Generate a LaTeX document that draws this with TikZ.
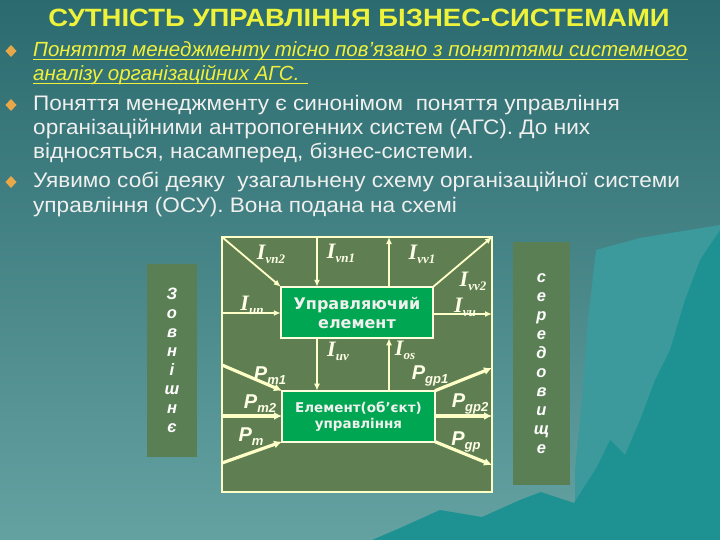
\documentclass[tikz,border=0pt]{standalone}
\usepackage{fontspec}
\setmainfont{Liberation Sans}
\newfontfamily\serifI{Liberation Serif}
\newfontfamily\boxfont{DejaVu Sans}
\usetikzlibrary{arrows.meta}
\definecolor{bgtop}{HTML}{2B6A6E}
\definecolor{bgbot}{HTML}{64A2A2}
\definecolor{mount}{HTML}{1E9292}
\definecolor{mount2}{HTML}{3C9A9C}
\definecolor{ttl}{HTML}{EEF23A}
\definecolor{txt}{HTML}{F0F0EE}
\definecolor{ylw}{HTML}{F0F03C}
\definecolor{bul}{HTML}{E8A84A}
\definecolor{olive}{HTML}{5F7F52}
\definecolor{grn}{HTML}{00A651}
\definecolor{pale}{HTML}{FFFFC8}
\definecolor{lab}{HTML}{FFFFE8}
\newcommand\Ilab[1]{{\serifI\bfseries\itshape\fontsize{22}{22}\selectfont I}\raisebox{-4pt}{\serifI\bfseries\itshape\fontsize{13}{13}\selectfont #1}}
\newcommand\Plab[1]{{\bfseries\itshape\fontsize{20}{20}\selectfont P}\raisebox{-4pt}{\bfseries\itshape\fontsize{13}{13}\selectfont #1}}
\newcommand\wide[1]{\scalebox{1.075}[1]{#1}}
\begin{document}
\begin{tikzpicture}[x=1pt,y=-1pt,
  btext/.style={anchor=base west,inner sep=0pt,text=txt,font=\fontsize{21}{21}\selectfont},
  ytext/.style={btext,text=ylw,font=\fontsize{20.5}{20.5}\selectfont\itshape},
  bulletd/.style={fill=bul},
  framebox/.style={draw=pale,line width=2.5pt,fill=olive,outer sep=0pt,inner sep=0pt},
  gbox/.style={draw=pale!60!white,line width=2pt,fill=grn,outer sep=0pt,inner sep=0pt,text=txt,align=center},
  side/.style={fill=olive!95!teal,inner sep=0pt,outer sep=0pt,text=white,align=center,font=\fontsize{16.5}{19}\selectfont\bfseries\itshape},
  iarrow/.style={draw=pale,line width=1.8pt,-{Latex[length=7pt,width=6pt]}},
  parrow/.style={draw=pale,line width=3.2pt,-{Latex[length=8pt,width=8pt]}},
  lbl/.style={text=lab,inner sep=0pt}]
% background
\fill[top color=bgtop,bottom color=bgbot] (0,0) rectangle (720,540);
\fill[mount2] (575,470) -- (582,400) -- (588,320) -- (596,250) -- (640,238) -- (720,225) -- (720,540) -- (575,540) -- cycle;
\fill[mount] (372,540) -- (400,528) -- (440,510) -- (482,517) -- (520,500) -- (541,492) -- (574,503) -- (597,467) -- (610,440) -- (625,455) -- (640,420) -- (655,380) -- (670,350) -- (685,300) -- (700,260) -- (720,230) -- (720,540) -- cycle;
\useasboundingbox (0,0) rectangle (720,540);
% title
\node[text=ttl,inner sep=0pt,anchor=base] (title) at (359,27)
  {\scalebox{1.1}[1]{\fontsize{25}{25}\selectfont\bfseries СУТНІСТЬ УПРАВЛІННЯ БІЗНЕС-СИСТЕМАМИ}};
% bullets
\fill[bulletd] (11,45) -- (16.5,51) -- (11,57) -- (5.5,51) -- cycle;
\fill[bulletd] (11,99) -- (16.5,105) -- (11,111) -- (5.5,105) -- cycle;
\fill[bulletd] (11,176) -- (16.5,182) -- (11,188) -- (5.5,182) -- cycle;
\node[ytext] (l1t) at (33,57) {Поняття менеджменту тісно пов’язано з поняттями системного};
\node[ytext] (l2t) at (33,81) {аналізу організаційних АГС.};
\draw[ylw,line width=1pt] ([yshift=-3pt]l1t.base west) -- ([yshift=-3pt]l1t.base east);
\draw[ylw,line width=1pt] ([yshift=-3pt]l2t.base west) -- ([yshift=-3pt,xshift=8pt]l2t.base east);
\node[btext] (l3t) at (33,111) {\wide{Поняття менеджменту є синонімом \ поняття управління}};
\node[btext] (l4t) at (33,135) {\wide{організаційними антропогенних систем (АГС). До них}};
\node[btext] (l5t) at (33,159) {\wide{відносяться, насамперед, бізнес-системи.}};
\node[btext] (l6t) at (33,188) {\wide{Уявимо собі деяку \ узагальнену схему організаційної системи}};
\node[btext] (l7t) at (33,212) {\wide{управління (ОСУ). Вона подана на схемі}};
% side boxes
\node[side,minimum width=50pt,minimum height=193pt] (L) at (172,360.5) {З\\о\\в\\н\\і\\ш\\н\\є};
\node[side,minimum width=57pt,minimum height=243pt] (R) at (541.5,363.5) {с\\е\\р\\е\\д\\о\\в\\и\\щ\\е};
% frame and boxes
\node[framebox,minimum width=270pt,minimum height=255pt] (F) at (357,364.5) {};
\node[gbox,minimum width=152.5pt,minimum height=51.5pt,font=\boxfont\bfseries\fontsize{16}{19}\selectfont] (U) at (357,312.5) {Управляючий\\елемент};
\node[gbox,minimum width=153pt,minimum height=51pt,font=\boxfont\bfseries\fontsize{13.5}{16}\selectfont] (O) at (358.5,416.2) {Елемент(об’єкт)\\управління};
% anchor coordinates on the frame
\coordinate (a1) at (317,237);
\coordinate (a2) at (389,237);
\coordinate (l1) at (222,313);
\coordinate (r1) at (492,314);
\coordinate (l2) at (222,365);
\coordinate (l3) at (222,416);
\coordinate (l4) at (222,463);
\coordinate (r2) at (492,368);
\coordinate (r3) at (492,416);
\coordinate (r4) at (492,465);
% information arrows
\draw[iarrow] (F.north west) -- (U.north west);
\draw[iarrow] (a1) -- (a1 |- U.north);
\draw[iarrow] (a2 |- U.north) -- (a2);
\draw[iarrow] (U.north east) -- (F.north east);
\draw[iarrow] (l1) -- (l1 -| U.west);
\draw[iarrow] (r1 -| U.east) -- (r1);
\draw[iarrow] (a1 |- U.south) -- (a1 |- O.north);
\draw[iarrow] (a2 |- O.north) -- (a2 |- U.south);
% material arrows
\draw[parrow] (l2) -- (O.north west);
\draw[parrow] (l3) -- (l3 -| O.west);
\draw[parrow] (l4) -- (O.south west);
\draw[parrow] (O.north east) -- (r2);
\draw[parrow] (O.east |- r3) -- (r3);
\draw[parrow] (O.south east) -- (r4);
% labels
\node[lbl] (tvn2) at (271,254) {\Ilab{vn2}};
\node[lbl] (tvn1) at (341,253) {\Ilab{vn1}};
\node[lbl] (tvv1) at (422,254) {\Ilab{vv1}};
\node[lbl] (tvv2) at (473,281) {\Ilab{vv2}};
\node[lbl] (tun) at (252,305) {\Ilab{un}};
\node[lbl] (tvu) at (465,307) {\Ilab{vu}};
\node[lbl] (tuv) at (338,351) {\Ilab{uv}};
\node[lbl] (tos) at (405,350) {\Ilab{os}};
\node[lbl] (pm1) at (270,376) {\Plab{m1}};
\node[lbl] (pm2) at (260,404) {\Plab{m2}};
\node[lbl] (pm) at (251,437) {\Plab{m}};
\node[lbl] (pg1) at (430,376) {\Plab{gp1}};
\node[lbl] (pg2) at (470,404) {\Plab{gp2}};
\node[lbl] (pg) at (466,442) {\Plab{gp}};
\end{tikzpicture}
\end{document}
